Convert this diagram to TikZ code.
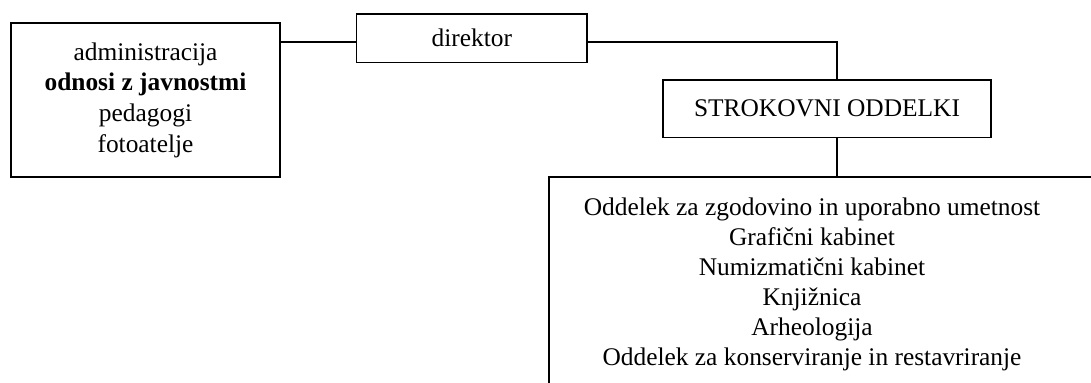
\documentclass[tikz,border=0pt]{standalone}
\usepackage{fontspec}
\setmainfont{Liberation Serif}
\usetikzlibrary{positioning, calc}
\tikzset{
  orgbox/.style={rectangle, draw=black, line width=0.9pt, inner sep=0pt, align=center, font=\fontsize{12.7}{15.3}\selectfont},
  orgtext/.style={rectangle, draw=none, inner sep=0pt, align=center, font=\fontsize{12.7}{15}\selectfont},
  orglink/.style={line width=0.9pt, black}
}
\begin{document}
\begin{tikzpicture}[x=0.5pt, y=-0.5pt]
    % page frame (pixels of the reference)
    \useasboundingbox (0,0) rectangle (1091,382);
    \clip (0,0) rectangle (1091,382);

    % services box
    \node[orgbox, minimum width=134.5pt, minimum height=77pt] (sluzbe) at (145.5, 100)
      {administracija\\ \textbf{odnosi z javnostmi}\\ pedagogi\\ fotoatelje};

    % director
    \node[orgbox, minimum width=115.25pt, minimum height=24.25pt] (direktor) at (471.75, 38.25) {direktor};

    % departments
    \node[orgbox, minimum width=163.7pt, minimum height=28.7pt] (strokovni) at (827, 108.7) {STROKOVNI ODDELKI};

    % list of departments (frame runs past the page)
    \node[orgbox, anchor=north west, minimum width=290pt, minimum height=120pt] (oddelki) at (548, 176) {};
    \node[orgtext] (seznam) at (812, 284)
      {Oddelek za zgodovino in uporabno umetnost\\ Grafični kabinet\\ Numizmatični kabinet\\
       Knjižnica\\ Arheologija\\ Oddelek za konserviranje in restavriranje};

    % connectors
    \coordinate (dl) at ([yshift=-2pt]direktor.west);
    \coordinate (dr) at ([yshift=-2pt]direktor.east);
    \coordinate (jct) at ([xshift=5pt]strokovni.north);
    \draw[orglink] (sluzbe.east |- dl) -- (dl);
    \draw[orglink] (dr) -- (dr -| jct) -- (jct);
    \draw[orglink] (jct |- strokovni.south) -- (jct |- oddelki.north);
\end{tikzpicture}
\end{document}
